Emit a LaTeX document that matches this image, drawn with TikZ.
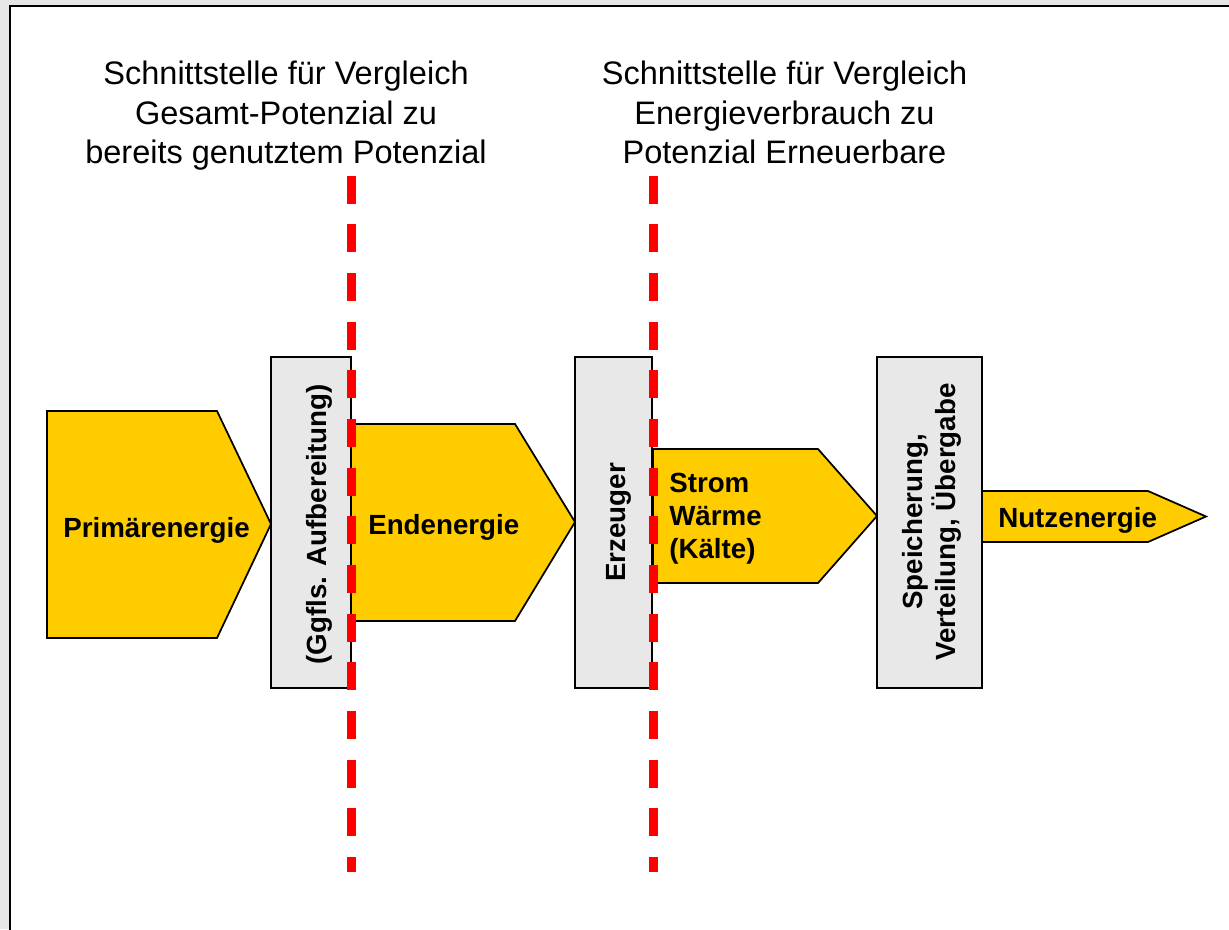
\documentclass[tikz,border=0pt]{standalone}
\usepackage{fontspec}
\setmainfont{Liberation Sans}
\definecolor{eyellow}{HTML}{FFCC00}
\definecolor{egray}{HTML}{E8E8E8}
\definecolor{bggray}{HTML}{E6E6E6}
\begin{document}
\begin{tikzpicture}[x=0.75pt,y=-0.75pt,
  energy/.style={fill=eyellow,draw=black,line width=1.3pt,line join=miter},
  stage/.style={fill=egray,draw=black,line width=1.3pt},
  cut/.style={draw=red,line width=6.8pt,dash pattern=on 21pt off 15.5pt},
  lbl/.style={font=\bfseries\fontsize{20.8}{24.75}\selectfont,inner sep=0pt},
  vlbl/.style={lbl,rotate=90,align=center},
  title/.style={font=\fontsize{24.4}{29.4}\selectfont,align=center,inner sep=0pt}]
\path[use as bounding box] (0,0) rectangle (1229,929);
\fill[bggray] (0,0) rectangle (1229,929);
\begin{scope}
\clip (0,0) rectangle (1229,929);
\draw[fill=white,line width=1.5pt] (10,6) rectangle (1240,940);
\end{scope}

% titles
\node[title,anchor=north] (t1) at (286,61) {Schnittstelle für Vergleich\\Gesamt-Potenzial zu\\bereits genutztem Potenzial};
\node[title,anchor=north] (t2) at (784.5,61) {Schnittstelle für Vergleich\\Energieverbrauch zu\\Potenzial Erneuerbare};

% stage boxes
\draw[stage] (271,357) rectangle (351,688);
\draw[stage] (575,357) rectangle (652,688);
\draw[stage] (877,357) rectangle (982,688);

% energy arrows
\draw[energy] (47,411) -- (217,411) -- (271,524) -- (217,638) -- (47,638) -- cycle;
\draw[energy] (351,424) -- (515,424) -- (575,522) -- (515,621) -- (351,621) -- cycle;
\draw[energy] (653,449) -- (818,449) -- (877,516) -- (818,583) -- (653,583) -- cycle;
\draw[energy] (982,491) -- (1148,491) -- (1206,516.5) -- (1148,542) -- (982,542) -- cycle;

% labels
\node[lbl,anchor=base west] (prim) at (63,537) {Primärenergie};
\node[lbl,anchor=base west] (end) at (368,534) {Endenergie};
\node[lbl,anchor=north west,align=left] (strom) at (669,473) {Strom\\Wärme\\(Kälte)};
\node[lbl,anchor=base west] (nutz) at (998,527) {Nutzenergie};
\node[vlbl,anchor=base] (aufb) at (326,524.5) {(Ggfls. Aufbereitung)};
\node[vlbl,anchor=base] (erz) at (625,522.5) {Erzeuger};
\node[vlbl,anchor=center] (spei) at (932,522) {Speicherung,\\Verteilung, Übergabe};

% cut lines
\coordinate (c1a) at (351.3,175.7);
\coordinate (c1b) at (351.3,872);
\coordinate (c2a) at (653.5,175.7);
\coordinate (c2b) at (653.5,872);
\draw[cut] (c1a) -- (c1b);
\draw[cut] (c2a) -- (c2b);
\end{tikzpicture}
\end{document}
